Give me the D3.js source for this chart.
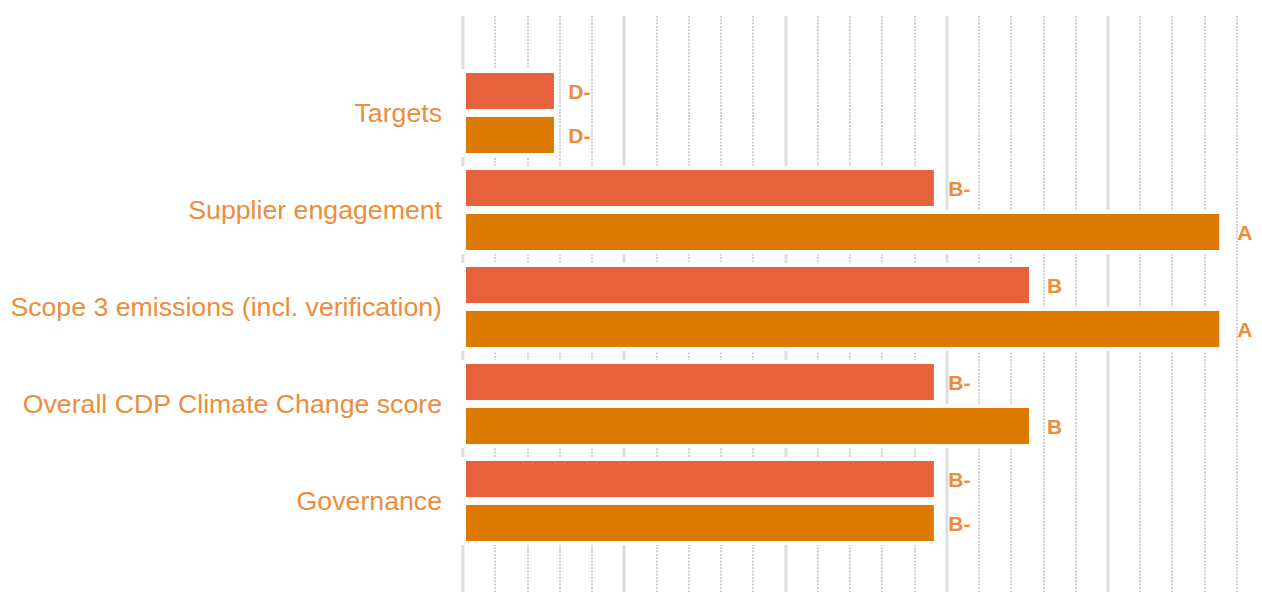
<!DOCTYPE html>
<html>
<head>
<meta charset="utf-8">
<script src="https://cdn.jsdelivr.net/npm/d3@7"></script>
<style>
  html, body { margin: 0; padding: 0; background: #fff; }
  svg { display: block; font-family: "Liberation Sans", Arial, sans-serif; }
</style>
</head>
<body>
<div id="chart"></div>
<script>
const categories = [
  "Targets",
  "Supplier engagement",
  "Scope 3 emissions (incl. verification)",
  "Overall CDP Climate Change score",
  "Governance"
]
const seriesNames = ["first", "second"]
const firstValues = [2.82, 14.6, 17.55, 14.6, 14.6]
const secondValues = [2.82, 23.45, 23.45, 17.55, 14.6]
const firstGrades = ["D-", "B-", "B", "B-", "B-"]
const secondGrades = ["D-", "A", "A", "B", "B-"]
const majorTicks = [0, 5, 10, 15, 20]
const xMaxValue = 24

const width = 1262
const height = 592
const colors = ["#e6623a", "#dc7a00"]
const textColor = "#ec8d3b"

const rows = categories.map((c, i) => ({
  category: c,
  bars: [
    { key: seriesNames[0], value: firstValues[i], grade: firstGrades[i], color: colors[0] },
    { key: seriesNames[1], value: secondValues[i], grade: secondGrades[i], color: colors[1] }
  ]
}))

const svg = d3.select("#chart")
  .append("svg")
  .attr("width", width)
  .attr("height", height)

const x = d3.scaleLinear().domain([0, xMaxValue]).range([463, 1237])
const y = d3.scaleBand().domain(categories).range([64.5, 549.5])
  .paddingInner(0.175).paddingOuter(0.0875)
const ySub = d3.scaleBand().domain(seriesNames).range([0, y.bandwidth()]).paddingInner(0.18)

// Gridlines: solid every 5, dotted in between
const ticks = d3.range(0, xMaxValue + 1)
const isMajor = d => majorTicks.includes(d)
svg.append("g")
  .selectAll("line")
  .data(ticks)
  .join("line")
  .attr("x1", d => Math.round(x(d))).attr("x2", d => Math.round(x(d)))
  .attr("y1", 16).attr("y2", height)
  .attr("stroke", d => isMajor(d) ? "#dddddd" : "#d0d0d0")
  .attr("stroke-width", d => isMajor(d) ? 3 : 2)
  .attr("stroke-dasharray", d => isMajor(d) ? null : "2,1.3")

const group = svg.append("g")
  .selectAll("g.row")
  .data(rows)
  .join("g")
  .attr("class", "row")
  .attr("transform", d => `translate(0,${y(d.category)})`)

// white knock-out behind each bar so gridlines stop short of it
group.selectAll("rect.knock")
  .data(d => d.bars)
  .join("rect")
  .attr("class", "knock")
  .attr("x", x(0) - 3)
  .attr("y", d => ySub(d.key) - 4)
  .attr("width", d => x(d.value) - x(0) + 7)
  .attr("height", ySub.bandwidth() + 8)
  .attr("fill", "#fff")

group.selectAll("rect.bar")
  .data(d => d.bars)
  .join("rect")
  .attr("class", "bar")
  .attr("x", x(0) + 3)
  .attr("y", d => ySub(d.key))
  .attr("width", d => x(d.value) - x(0) - 3)
  .attr("height", ySub.bandwidth())
  .attr("fill", d => d.color)

group.selectAll("text.grade")
  .data(d => d.bars)
  .join("text")
  .attr("class", "grade")
  .attr("x", d => x(d.value) + 25.5)
  .attr("y", d => ySub(d.key) + ySub.bandwidth() / 2)
  .attr("dy", "0.36em")
  .attr("text-anchor", "middle")
  .attr("font-size", 21)
  .attr("font-weight", 700)
  .attr("fill", textColor)
  .text(d => d.grade)

// Category labels
svg.append("g")
  .selectAll("text")
  .data(categories)
  .join("text")
  .attr("x", 442)
  .attr("y", d => y(d) + y.bandwidth() / 2)
  .attr("dy", "0.33em")
  .attr("text-anchor", "end")
  .attr("font-size", 26.7)
  .attr("fill", textColor)
  .text(d => d)
</script>
</body>
</html>
